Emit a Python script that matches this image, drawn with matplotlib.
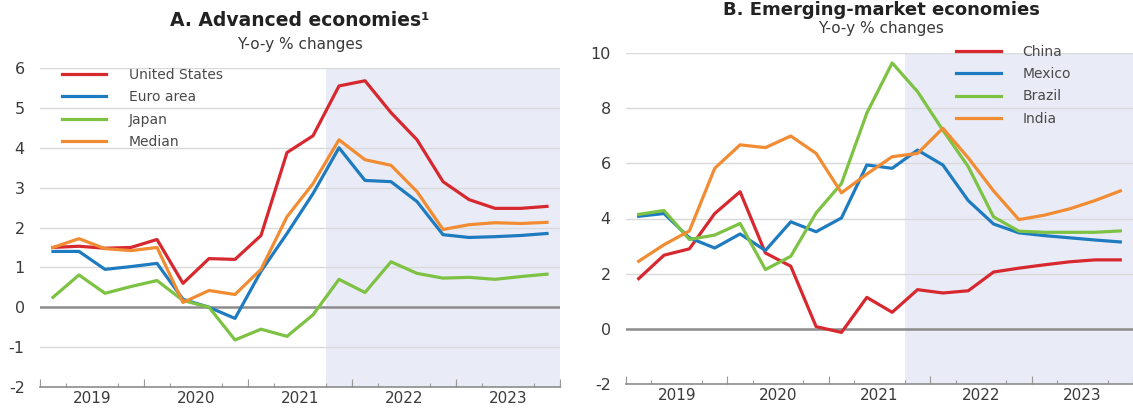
import numpy as np
import matplotlib
matplotlib.use("Agg")
import matplotlib.pyplot as plt

# quarterly data, 2019Q1 .. 2023Q4 (20 quarters)
quarters = 2019 + (np.arange(20) + 0.5) / 4
years = [2019, 2020, 2021, 2022, 2023]
forecast_start = 2021.75

# --- Panel A: advanced economies ---
us = [1.5, 1.53, 1.48, 1.5, 1.7, 0.6, 1.22, 1.2, 1.8, 3.88, 4.3, 5.55, 5.68, 4.88,
      4.2, 3.15, 2.7, 2.48, 2.48, 2.53]
euro = [1.4, 1.4, 0.95, 1.02, 1.1, 0.2, 0.0, -0.28, 0.9, 1.85, 2.85, 4.0, 3.18, 3.15,
        2.65, 1.82, 1.75, 1.77, 1.8, 1.85]
japan = [0.25, 0.81, 0.35, 0.52, 0.67, 0.17, 0.0, -0.82, -0.55, -0.73, -0.19, 0.7,
         0.37, 1.14, 0.85, 0.73, 0.75, 0.7, 0.77, 0.83]
median = [1.5, 1.72, 1.47, 1.42, 1.5, 0.12, 0.42, 0.32, 0.95, 2.27, 3.1, 4.2, 3.7,
          3.56, 2.9, 1.95, 2.07, 2.12, 2.1, 2.13]

# --- Panel B: emerging-market economies ---
china = [1.82, 2.67, 2.9, 4.18, 4.97, 2.75, 2.27, 0.08, -0.13, 1.14, 0.6, 1.42, 1.3,
         1.38, 2.06, 2.2, 2.32, 2.43, 2.5, 2.5]
mexico = [4.08, 4.18, 3.3, 2.93, 3.44, 2.84, 3.88, 3.52, 4.02, 5.94, 5.82, 6.48, 5.94,
          4.65, 3.8, 3.48, 3.38, 3.3, 3.22, 3.15]
brazil = [4.15, 4.29, 3.24, 3.4, 3.82, 2.15, 2.63, 4.2, 5.27, 7.82, 9.64, 8.6, 7.2,
          5.88, 4.06, 3.54, 3.5, 3.5, 3.5, 3.55]
india = [2.45, 3.05, 3.55, 5.82, 6.67, 6.57, 6.99, 6.36, 4.93, 5.61, 6.24, 6.36, 7.27,
         6.2, 5.0, 3.96, 4.12, 4.35, 4.65, 5.0]

RED = "#d7282f"
BLUE = "#1f7bc0"
GREEN = "#7dc242"
ORANGE = "#f28c33"
SHADE = "#e9ecf6"
GRID = "#d9d9d9"
TXT = "#3a3a3a"

W, H = 1133, 408
fig = plt.figure(figsize=(W / 100, H / 100), dpi=100)


def px_axes(x0, x1, ytop, ybot):
    return fig.add_axes([x0 / W, (H - ybot) / H, (x1 - x0) / W, (ybot - ytop) / H])


def style_axis(ax, ylo, yhi, ystep, xmax):
    ax.set_xlim(2019, xmax)
    ax.set_ylim(ylo, yhi)
    ax.axvspan(forecast_start, 2024, color=SHADE, zorder=0, lw=0)
    for v in np.arange(ylo + ystep, yhi + ystep / 2, ystep):
        if v == 0:
            ax.axhline(0, color="#8c8c8c", lw=1.8, zorder=1)
        else:
            ax.axhline(v, color=GRID, lw=1.0, zorder=1)
    for s in ["top", "right", "left"]:
        ax.spines[s].set_visible(False)
    ax.spines["bottom"].set_color("#8c8c8c")
    ax.spines["bottom"].set_linewidth(1.2)
    ax.set_yticks(np.arange(ylo, yhi + ystep / 2, ystep))
    ax.set_yticklabels([f"{int(v)}" for v in np.arange(ylo, yhi + ystep / 2, ystep)])
    ax.tick_params(axis="y", length=0, pad=11, labelsize=11.5, labelcolor=TXT)
    # year labels at year centres, quarter ticks inside
    ax.set_xticks([y + 0.5 for y in years])
    ax.set_xticklabels([str(y) for y in years])
    ax.tick_params(axis="x", which="major", length=0, pad=3, labelsize=11, labelcolor=TXT)
    ax.set_xticks(np.arange(2019, 2024.01, 0.25), minor=True)
    ax.tick_params(axis="x", which="minor", direction="in", length=3, width=0.8,
                   color="#9a9a9a")
    sec = ax.secondary_xaxis("bottom")
    sec.set_xticks(np.arange(2019, 2024.01, 1.0))
    sec.set_xticklabels([])
    sec.tick_params(direction="in", length=6, width=0.8, color="#9a9a9a")
    sec.spines["bottom"].set_visible(False)


# Panel A
axA = px_axes(40, 560, 68, 387)
style_axis(axA, -2, 6, 1, 2024)
axA.plot(quarters, us, color=RED, lw=2.3, label="United States", zorder=3)
axA.plot(quarters, euro, color=BLUE, lw=2.3, label="Euro area", zorder=3)
axA.plot(quarters, japan, color=GREEN, lw=2.3, label="Japan", zorder=3)
axA.plot(quarters, median, color=ORANGE, lw=2.3, label="Median", zorder=3)
axA.legend(loc="upper left", bbox_to_anchor=(0.042, 1.0), frameon=False, fontsize=10,
           handlelength=3.2, handletextpad=1.6, labelspacing=0.6, borderpad=0,
           borderaxespad=0, labelcolor="#4a4a4a")

# Panel B
axB = px_axes(626, 1133, 53, 384)
style_axis(axB, -2, 10, 2, 2019 + 507 / 510 * 5)
axB.plot(quarters, china, color=RED, lw=2.3, label="China", zorder=3)
axB.plot(quarters, mexico, color=BLUE, lw=2.3, label="Mexico", zorder=3)
axB.plot(quarters, brazil, color=GREEN, lw=2.3, label="Brazil", zorder=3)
axB.plot(quarters, india, color=ORANGE, lw=2.3, label="India", zorder=3)
axB.legend(loc="upper left", bbox_to_anchor=(0.651, 1.025), frameon=False, fontsize=10,
           handlelength=3.2, handletextpad=1.6, labelspacing=0.6, borderpad=0,
           borderaxespad=0, labelcolor="#4a4a4a")

# titles
fig.text(300 / W, 1 - 21 / H, "A. Advanced economies\u00b9", ha="center", va="center",
         fontsize=13.5, fontweight="bold", color="#222222")
fig.text(300 / W, 1 - 44 / H, "Y-o-y % changes", ha="center", va="center",
         fontsize=11, color=TXT)
fig.text(881 / W, 1 - 10 / H, "B. Emerging-market economies", ha="center", va="center",
         fontsize=13, fontweight="bold", color="#222222")
fig.text(881 / W, 1 - 29 / H, "Y-o-y % changes", ha="center", va="center",
         fontsize=11, color=TXT)

fig.savefig("out.png", dpi=100)
